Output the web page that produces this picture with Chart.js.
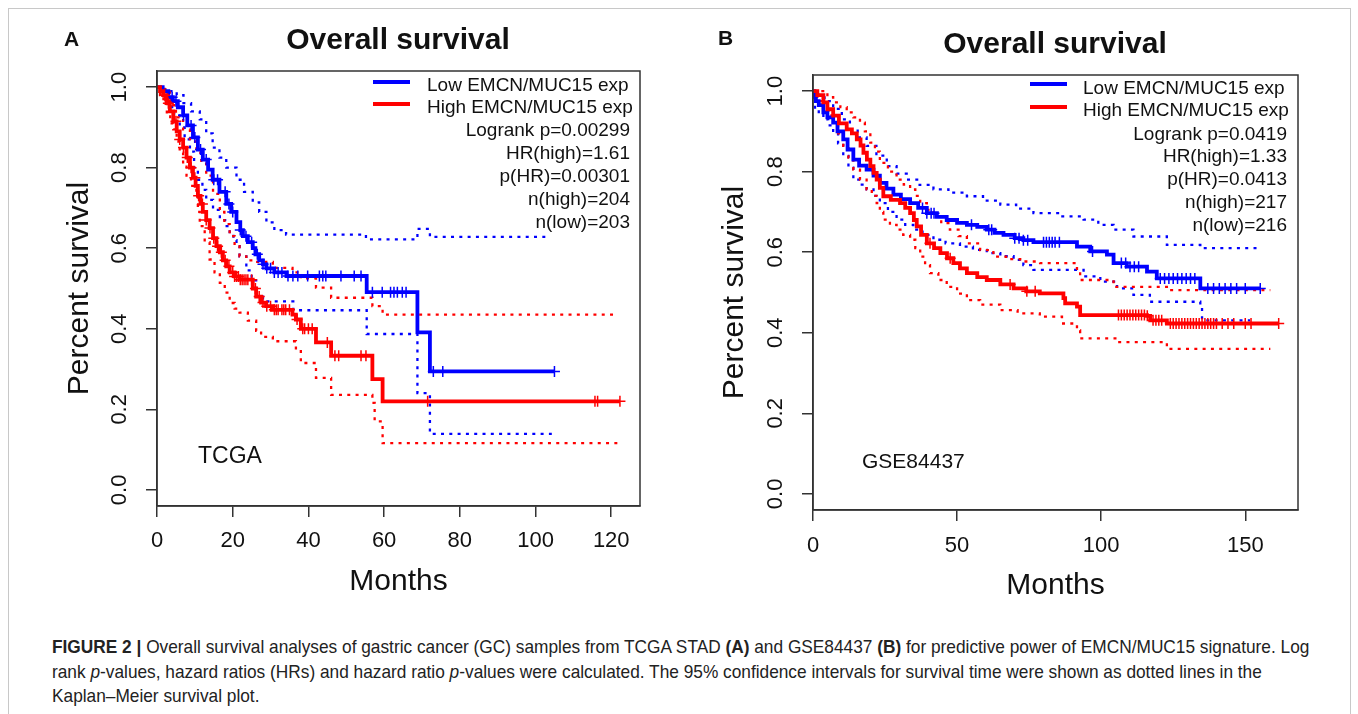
<!DOCTYPE html>
<html lang="en">

<head>
  <meta charset="UTF-8">
  <title>Overall survival - EMCN/MUC15</title>
  <!-- Chart.js para desenhar as curvas de Kaplan-Meier -->
  <script src="https://cdn.jsdelivr.net/npm/chart.js"></script>
  <style>
    body {
      margin: 0;
      width: 1358px;
      height: 714px;
      position: relative;
      overflow: hidden;
      background: #fff;
      color: #111;
      font-family: "Liberation Sans", Arial, sans-serif;
    }

    canvas, .txt { position: absolute; }
    .txt { white-space: nowrap; line-height: 1; }
    .letra { font-weight: bold; font-size: 21px; }
    .titulo { font-weight: bold; font-size: 30px; width: 500px; text-align: center; }
    .leg { position: absolute; font-size: 19px; line-height: 22.9px; white-space: nowrap; }
    .leg.dir { text-align: right; }
    .amostra { position: absolute; height: 4px; width: 37px; }
    .grupo { font-size: 23px; }
    .moldura { position: absolute; left: 8px; top: 8px; width: 1341px; height: 720px; border: 1px solid #c8c8c8; }
    .legenda-fig {
      position: absolute; left: 52px; top: 635px;
      font-size: 18.5px; line-height: 24.5px; white-space: nowrap; color: #222;
      transform: scaleX(0.934); transform-origin: 0 0;
    }
  </style>
</head>

<body>
  <div class="moldura"></div>
  <canvas id="graficoA" width="690" height="610" style="left:0;top:0"></canvas>
  <canvas id="graficoB" width="668" height="610" style="left:690px;top:0"></canvas>

  <div class="txt letra" style="left:64px;top:28px">A</div>
  <div class="txt letra" style="left:718px;top:27px">B</div>
  <div class="txt titulo" style="left:148px;top:24px">Overall survival</div>
  <div class="txt titulo" style="left:805px;top:28px">Overall survival</div>

  <!-- legenda do painel A -->
  <div class="amostra" style="left:373px;top:80px;background:#0000ff"></div>
  <div class="amostra" style="left:373px;top:101.5px;background:#ff0000"></div>
  <div class="leg" style="left:427px;top:73.5px">Low EMCN/MUC15 exp<br>High EMCN/MUC15 exp</div>
  <div class="leg dir" style="right:728px;top:119.3px">Logrank p=0.00299<br>HR(high)=1.61<br>p(HR)=0.00301<br>n(high)=204<br>n(low)=203</div>

  <!-- legenda do painel B -->
  <div class="amostra" style="left:1030px;top:82px;background:#0000ff"></div>
  <div class="amostra" style="left:1030px;top:105.3px;background:#ff0000"></div>
  <div class="leg" style="left:1083px;top:76.5px">Low EMCN/MUC15 exp<br>High EMCN/MUC15 exp</div>
  <div class="leg dir" style="right:71px;top:122.5px">Logrank p=0.0419<br>HR(high)=1.33<br>p(HR)=0.0413<br>n(high)=217<br>n(low)=216</div>

  <div class="txt grupo" style="left:198px;top:444px">TCGA</div>
  <div class="txt grupo" style="left:862px;top:450px;font-size:21px">GSE84437</div>

  <div class="legenda-fig">
    <b>FIGURE 2 |</b> Overall survival analyses of gastric cancer (GC) samples from TCGA STAD <b>(A)</b> and GSE84437 <b>(B)</b> for predictive power of EMCN/MUC15 signature. Log<br>
    rank <i>p</i>-values, hazard ratios (HRs) and hazard ratio <i>p</i>-values were calculated. The 95% confidence intervals for survival time were shown as dotted lines in the<br>
    Kaplan–Meier survival plot.
  </div>
</body>

</html>
<script>
  // eixos
  const ticksXA = [0, 20, 40, 60, 80, 100, 120];
  const ticksXB = [0, 50, 100, 150];
  const ticksY = [0, 0.2, 0.4, 0.6, 0.8, 1.0];

  // TCGA: [meses, sobrevida]
  const tcgaBaixa = [[0, 1], [1.5, 0.99], [3, 0.975], [4.2, 0.965], [5.5, 0.95], [6.9, 0.93], [8, 0.905], [9.5, 0.875], [10.8, 0.845], [12.1, 0.82], [13.5, 0.795], [14.7, 0.77], [16.5, 0.74], [18.3, 0.71], [19.6, 0.69], [21, 0.665], [22, 0.645], [22.7, 0.63], [24, 0.615], [25.3, 0.6], [26, 0.585], [27, 0.57], [28, 0.56], [28.9, 0.55], [31, 0.54], [34.2, 0.531], [55.4, 0.491], [68.8, 0.391], [72.1, 0.294], [105, 0.294]];
  const tcgaAlta = [[0, 1], [0.8, 0.99], [1.6, 0.98], [2.5, 0.96], [3.4, 0.94], [4.3, 0.915], [5.2, 0.89], [6, 0.87], [6.9, 0.85], [7.8, 0.825], [8.7, 0.8], [9.5, 0.775], [10.2, 0.755], [10.8, 0.73], [11.5, 0.71], [12.1, 0.69], [13, 0.67], [13.9, 0.65], [14.8, 0.625], [15.7, 0.605], [16.6, 0.59], [17.4, 0.57], [18.3, 0.555], [19.2, 0.54], [20.5, 0.53], [21.8, 0.522], [25.3, 0.5], [26.2, 0.48], [27.5, 0.465], [28.8, 0.456], [30.6, 0.447], [35.8, 0.435], [36.7, 0.423], [38, 0.4], [42, 0.366], [46, 0.333], [56.9, 0.275], [59.6, 0.22], [122.3, 0.22]];
  const tcgaBaixaSup = [[0, 1], [2, 0.995], [3.5, 0.99], [5.2, 0.98], [7, 0.96], [9, 0.94], [11.3, 0.92], [13, 0.885], [14.7, 0.85], [16.5, 0.825], [18.3, 0.8], [21, 0.77], [23, 0.74], [25.3, 0.714], [27, 0.69], [28.9, 0.664], [31, 0.645], [34.1, 0.634], [55.2, 0.622], [68.8, 0.648], [72.1, 0.628], [103, 0.628]];
  const tcgaBaixaInf = [[0, 1], [1.5, 0.985], [2.5, 0.97], [4, 0.935], [6, 0.9], [7.3, 0.87], [8.7, 0.84], [9.8, 0.8], [10.8, 0.77], [12, 0.745], [13, 0.72], [14.8, 0.695], [16.6, 0.67], [18, 0.655], [19.2, 0.64], [20.2, 0.62], [21, 0.605], [21.8, 0.58], [23.6, 0.545], [25, 0.52], [26.2, 0.48], [28, 0.468], [36, 0.446], [55.4, 0.387], [68.8, 0.24], [72.1, 0.139], [104.3, 0.139]];
  const tcgaAltaSup = [[0, 1], [1.5, 0.995], [3.4, 0.955], [5, 0.925], [6.9, 0.895], [8.7, 0.865], [10.4, 0.837], [11.7, 0.81], [13, 0.78], [14.8, 0.735], [16.6, 0.69], [17.8, 0.66], [19.2, 0.63], [20.5, 0.605], [21.8, 0.58], [23.6, 0.57], [25.3, 0.566], [30.6, 0.551], [35.8, 0.54], [38, 0.525], [42, 0.502], [46, 0.477], [56.9, 0.456], [59.6, 0.435], [121, 0.435]];
  const tcgaAltaInf = [[0, 1], [0.8, 0.98], [1.7, 0.96], [2.6, 0.93], [3.5, 0.91], [4.3, 0.895], [5.2, 0.865], [6, 0.837], [6.9, 0.81], [7.8, 0.78], [9, 0.755], [10.4, 0.73], [10.8, 0.69], [11.3, 0.655], [12.6, 0.615], [13.9, 0.572], [15.2, 0.54], [16.6, 0.514], [17.9, 0.49], [19.2, 0.464], [20.5, 0.45], [21.8, 0.44], [24, 0.42], [26.2, 0.395], [27.5, 0.38], [30.6, 0.369], [36.7, 0.348], [38, 0.315], [42, 0.278], [46, 0.236], [56.9, 0.216], [57.5, 0.17], [59.6, 0.116], [122, 0.116]];
  const tcgaBaixaCensura = [4, 5, 7, 9, 10, 11.5, 13, 15, 16, 18, 19, 20, 22, 23.5, 25, 26.5, 28, 29, 30, 31, 32, 33, 34.6, 35.9, 37.2, 39.8, 42.9, 43.8, 44.6, 48.6, 52.1, 53.9, 56.9, 59.5, 61.7, 62.6, 63.5, 64.8, 65.8, 73, 75.5, 105];
  const tcgaAltaCensura = [2, 3, 5, 6, 7, 8, 9, 10, 11, 12, 13, 14, 15, 16, 17, 18, 19, 20, 20.5, 21, 21.5, 22, 22.5, 23, 23.5, 24, 25, 26, 27, 28, 29, 30, 31, 31.5, 32, 33, 33.5, 34, 35, 37, 38.5, 39, 40, 41, 45, 47, 48, 53.9, 55.2, 71.5, 115.7, 116.4, 122.3];

  // GSE84437
  const gseBaixa = [[0, 1], [0.5, 0.985], [1, 0.975], [2, 0.965], [3.6, 0.947], [5, 0.935], [7, 0.922], [8.5, 0.9], [10.5, 0.88], [12, 0.855], [14, 0.83], [16, 0.815], [18.6, 0.805], [21, 0.79], [23.2, 0.772], [25.5, 0.758], [27.9, 0.743], [30.5, 0.732], [33.7, 0.722], [36.5, 0.71], [39.5, 0.697], [43, 0.688], [46.4, 0.68], [50, 0.673], [53.4, 0.668], [57, 0.663], [60.3, 0.656], [63, 0.648], [66.1, 0.643], [70, 0.635], [73, 0.63], [76.5, 0.625], [91.6, 0.614], [96.2, 0.602], [102, 0.594], [104.3, 0.573], [108.9, 0.564], [115.9, 0.552], [119.3, 0.535], [134.4, 0.51], [155.2, 0.51]];
  const gseAlta = [[0, 1], [1.5, 0.99], [3.6, 0.972], [5, 0.955], [7, 0.939], [9, 0.92], [11.7, 0.905], [13.5, 0.895], [15.2, 0.88], [16.5, 0.865], [17.5, 0.847], [18.7, 0.83], [19.9, 0.814], [21, 0.797], [22.1, 0.78], [23.2, 0.76], [24.4, 0.739], [27, 0.73], [30.2, 0.722], [32, 0.71], [33.7, 0.697], [35, 0.68], [36, 0.664], [37.5, 0.643], [39.5, 0.622], [42, 0.61], [44.2, 0.598], [46.5, 0.585], [48.7, 0.573], [51, 0.56], [53.4, 0.548], [57, 0.538], [60.3, 0.531], [65, 0.52], [69.6, 0.51], [74, 0.503], [78.7, 0.498], [86.9, 0.486], [87.5, 0.473], [91.6, 0.465], [92.7, 0.444], [115.9, 0.442], [117, 0.431], [122.8, 0.423], [161.6, 0.423]];
  const gseBaixaSup = [[0, 1], [2, 0.99], [4, 0.975], [7, 0.956], [10, 0.93], [12.8, 0.905], [15.5, 0.885], [18.6, 0.864], [22, 0.84], [25.6, 0.814], [29, 0.795], [32.5, 0.78], [37, 0.767], [41.8, 0.756], [47, 0.748], [53.4, 0.739], [59, 0.728], [65, 0.718], [70.5, 0.708], [76.5, 0.697], [85.8, 0.689], [93.9, 0.681], [99, 0.668], [104.3, 0.656], [111.2, 0.639], [122.8, 0.618], [134.4, 0.61], [154, 0.61]];
  const gseBaixaInf = [[0, 1], [0.7, 0.955], [2, 0.945], [3.6, 0.93], [5.3, 0.915], [7, 0.897], [8.7, 0.87], [10.5, 0.839], [12.3, 0.81], [14, 0.78], [16, 0.768], [18.6, 0.756], [21, 0.74], [23.2, 0.722], [26, 0.7], [29, 0.681], [32, 0.668], [34.8, 0.656], [38, 0.643], [41.8, 0.631], [46, 0.622], [51, 0.614], [55.5, 0.606], [60.3, 0.598], [65, 0.59], [69.6, 0.581], [73, 0.568], [76.5, 0.556], [93.9, 0.54], [99.7, 0.527], [105.5, 0.51], [111.2, 0.494], [116.9, 0.477], [134.4, 0.465], [135, 0.431], [151.7, 0.431]];
  const gseAltaSup = [[0, 1], [3, 1], [5, 0.985], [7, 0.972], [9.5, 0.96], [11.7, 0.947], [14, 0.935], [16.3, 0.922], [18, 0.9], [19.9, 0.872], [21.5, 0.85], [23.2, 0.822], [26, 0.8], [29, 0.78], [31.5, 0.768], [33.7, 0.756], [35.5, 0.74], [37.2, 0.722], [39.5, 0.705], [41.8, 0.689], [44.5, 0.672], [47.5, 0.656], [50.5, 0.64], [53.4, 0.622], [58, 0.605], [62.6, 0.589], [67, 0.583], [71.9, 0.577], [78.8, 0.573], [91.6, 0.552], [92.7, 0.531], [104.3, 0.514], [122.8, 0.506], [158.7, 0.506]];
  const gseAltaInf = [[0, 1], [1.5, 0.975], [3.5, 0.955], [5.3, 0.94], [7, 0.922], [8.7, 0.895], [10.5, 0.864], [12.3, 0.835], [14, 0.805], [16.3, 0.78], [18.6, 0.756], [20.4, 0.74], [22.1, 0.722], [23.2, 0.7], [24.4, 0.681], [26.7, 0.668], [29, 0.656], [31.3, 0.643], [33.7, 0.631], [35.5, 0.61], [37.2, 0.589], [38.9, 0.568], [40.6, 0.548], [43.5, 0.531], [46.4, 0.514], [50, 0.497], [53.4, 0.481], [58, 0.47], [65, 0.456], [71, 0.448], [78.7, 0.44], [86.4, 0.423], [91.6, 0.406], [92.7, 0.386], [105.5, 0.377], [122.8, 0.36], [158.7, 0.36]];
  const gseBaixaCensura = [38, 39.5, 41, 42, 55, 61, 62, 70, 71.5, 73, 74.5, 80, 81, 82, 83, 84, 85.5, 97, 107, 108.5, 110, 111.5, 113, 120.5, 122, 123.5, 125, 126.5, 128, 129.5, 131, 132.5, 137, 139, 141, 143, 145, 147, 150, 155.2];
  const gseAltaCensura = [40.6, 47.6, 68.4, 74.2, 77.1, 106, 107, 108, 109, 110, 111, 112, 113, 114, 115, 116, 118, 119, 120, 121, 124, 125, 126, 127, 128, 129, 130, 131, 132, 133, 134, 135, 136, 137, 138, 139, 140, 142, 144, 146, 150, 152, 161.6];

  const AZUL = '#0000ff';
  const VERMELHO = '#ff0000';
  const EIXO = '#333333';
  const FONTE = '"Liberation Sans", Arial, sans-serif';

  // valor da curva em degrau num tempo qualquer (para as marcas de censura)
  function sobrevidaEm(curva, t) {
    let s = curva[0][1];
    for (let i = 0; i < curva.length; i++) {
      if (curva[i][0] <= t) s = curva[i][1];
    }
    return s;
  }

  // contorno da area do grafico (box do R)
  const pluginMoldura = {
    id: 'moldura',
    afterDraw(chart) {
      const { ctx, chartArea: a } = chart;
      ctx.save();
      ctx.strokeStyle = EIXO;
      ctx.lineWidth = 1.5;
      ctx.strokeRect(a.left, a.top, a.right - a.left, a.bottom - a.top);
      ctx.restore();
    }
  };

  function linha(dados, cor) {
    return { data: dados, borderColor: cor, borderWidth: 3.8, stepped: true, pointRadius: 0, fill: false };
  }

  function pontilhado(dados, cor) {
    return { data: dados, borderColor: cor, borderWidth: 2.3, borderDash: [3, 5.3], stepped: true, pointRadius: 0, fill: false };
  }

  function censuras(tempos, curva, cor) {
    return {
      data: tempos.map(t => [t, sobrevidaEm(curva, t)]),
      showLine: false,
      pointStyle: 'cross',
      pointRadius: 5.5,
      pointBorderWidth: 1.5,
      borderColor: cor,
      pointBorderColor: cor
    };
  }

  function plotarGraficoKM(id, cfg) {
    const grade = { display: true, drawOnChartArea: false, drawTicks: true, tickLength: 11, color: EIXO, lineWidth: 1.5 };
    const borda = { display: true, color: EIXO, width: 1.5 };

    new Chart(document.getElementById(id).getContext('2d'), {
      type: 'line',
      data: {
        datasets: [
          censuras(cfg.altaCensura, cfg.alta, VERMELHO),
          linha(cfg.alta, VERMELHO),
          censuras(cfg.baixaCensura, cfg.baixa, AZUL),
          linha(cfg.baixa, AZUL),
          pontilhado(cfg.altaSup, VERMELHO),
          pontilhado(cfg.altaInf, VERMELHO),
          pontilhado(cfg.baixaSup, AZUL),
          pontilhado(cfg.baixaInf, AZUL)
        ]
      },
      options: {
        responsive: false,
        animation: false,
        events: [],
        layout: { padding: { top: cfg.topo, right: cfg.direita, left: 0, bottom: 0 } },
        plugins: { legend: { display: false }, tooltip: { enabled: false } },
        scales: {
          x: {
            type: 'linear',
            min: 0,
            max: cfg.xMax,
            afterBuildTicks: s => { s.ticks = cfg.ticksX.map(v => ({ value: v })); },
            afterFit: s => { s.height = cfg.alturaX; },
            ticks: { autoSkip: false, maxRotation: 0, padding: cfg.padX, color: '#111', font: { family: FONTE, size: 22 } },
            grid: grade,
            border: borda,
            title: { display: true, text: 'Months', color: '#111', font: { family: FONTE, size: 30 }, padding: { top: 0, bottom: cfg.padTituloX } }
          },
          y: {
            type: 'linear',
            min: -0.04,
            max: 1.04,
            afterBuildTicks: s => { s.ticks = ticksY.map(v => ({ value: v })); },
            afterFit: s => { s.width = cfg.larguraY; },
            ticks: { minRotation: 90, maxRotation: 90, crossAlign: 'center', padding: cfg.padY, color: '#111', font: { family: FONTE, size: 22 }, callback: v => v.toFixed(1) },
            grid: grade,
            border: borda,
            title: { display: true, text: 'Percent survival', color: '#111', font: { family: FONTE, size: 30 }, padding: { top: cfg.padTituloY, bottom: 0 } }
          }
        }
      },
      plugins: [pluginMoldura]
    });
  }

  plotarGraficoKM('graficoA', {
    baixa: tcgaBaixa, alta: tcgaAlta,
    baixaSup: tcgaBaixaSup, baixaInf: tcgaBaixaInf,
    altaSup: tcgaAltaSup, altaInf: tcgaAltaInf,
    baixaCensura: tcgaBaixaCensura, altaCensura: tcgaAltaCensura,
    ticksX: ticksXA, xMax: 127.6,
    topo: 71, direita: 50, alturaX: 104, larguraY: 157,
    padX: 10.8, padY: 11, padTituloX: 10, padTituloY: 62
  });

  plotarGraficoKM('graficoB', {
    baixa: gseBaixa, alta: gseAlta,
    baixaSup: gseBaixaSup, baixaInf: gseBaixaInf,
    altaSup: gseAltaSup, altaInf: gseAltaInf,
    baixaCensura: gseBaixaCensura, altaCensura: gseAltaCensura,
    ticksX: ticksXB, xMax: 168.3,
    topo: 75, direita: 60, alturaX: 100, larguraY: 123,
    padX: 11.8, padY: 10.7, padTituloX: 6, padTituloY: 27
  });
</script>
